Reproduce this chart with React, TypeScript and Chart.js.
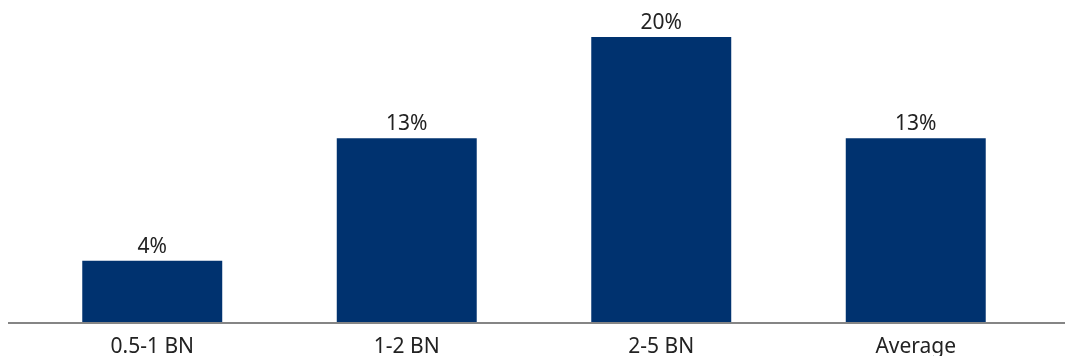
import React, { useEffect, useRef } from "react";
import { Chart, registerables } from "chart.js";

Chart.register(...registerables);

const categories = ["0.5-1 BN", "1-2 BN", "2-5 BN", "Average"];
const values = [4.3, 12.9, 20, 12.9];
const valueLabels = ["4%", "13%", "20%", "13%"];

const BAR_COLOR = "#00326f";
const TEXT_COLOR = "#222222";
const FONT = "'Noto Sans', 'Open Sans', sans-serif";

const labelPlugin = {
  id: "valueLabels",
  afterDatasetsDraw(chart: any) {
    const ctx = chart.ctx;
    const meta = chart.getDatasetMeta(0);
    ctx.save();
    ctx.font = `21px ${FONT}`;
    ctx.fillStyle = TEXT_COLOR;
    ctx.textAlign = "center";
    ctx.textBaseline = "alphabetic";
    meta.data.forEach((bar: any, i: number) => {
      ctx.fillText(valueLabels[i], bar.x, bar.y - 8);
    });
    ctx.restore();
  },
};

const axisLinePlugin = {
  id: "axisLine",
  afterDatasetsDraw(chart: any) {
    const ctx = chart.ctx;
    const y = chart.chartArea.bottom;
    ctx.save();
    ctx.strokeStyle = "#858585";
    ctx.lineWidth = 2;
    ctx.beginPath();
    ctx.moveTo(8, y + 1);
    ctx.lineTo(chart.width, y + 1);
    ctx.stroke();
    ctx.restore();
  },
};

export default function App() {
  const ref = useRef<HTMLCanvasElement | null>(null);
  useEffect(() => {
    if (!ref.current) return;
    const chart = new Chart(ref.current, {
      type: "bar",
      data: {
        labels: categories,
        datasets: [
          {
            data: values,
            backgroundColor: BAR_COLOR,
            borderWidth: 0,
            categoryPercentage: 1,
            barPercentage: 0.55,
          },
        ],
      },
      options: {
        animation: false,
        responsive: false,
        maintainAspectRatio: false,
        layout: { padding: { left: 25, right: 22, top: 37, bottom: 0 } },
        plugins: {
          legend: { display: false },
          tooltip: { enabled: false },
        },
        scales: {
          x: {
            grid: { display: false },
            border: { display: false },
            ticks: {
              color: TEXT_COLOR,
              font: { family: FONT, size: 21 },
              padding: 4,
              maxRotation: 0,
            },
            afterFit(scale: any) {
              scale.height = 34;
            },
          },
          y: {
            display: false,
            min: 0,
            max: 20,
          },
        },
      },
      plugins: [labelPlugin, axisLinePlugin],
    });
    return () => chart.destroy();
  }, []);
  return (
    <div style={{ position: "absolute", left: 0, top: 0, width: 1065, height: 356, background: "#fff" }}>
      <canvas ref={ref} width={1065} height={356} style={{ width: 1065, height: 356, display: "block" }} />
    </div>
  );
}
